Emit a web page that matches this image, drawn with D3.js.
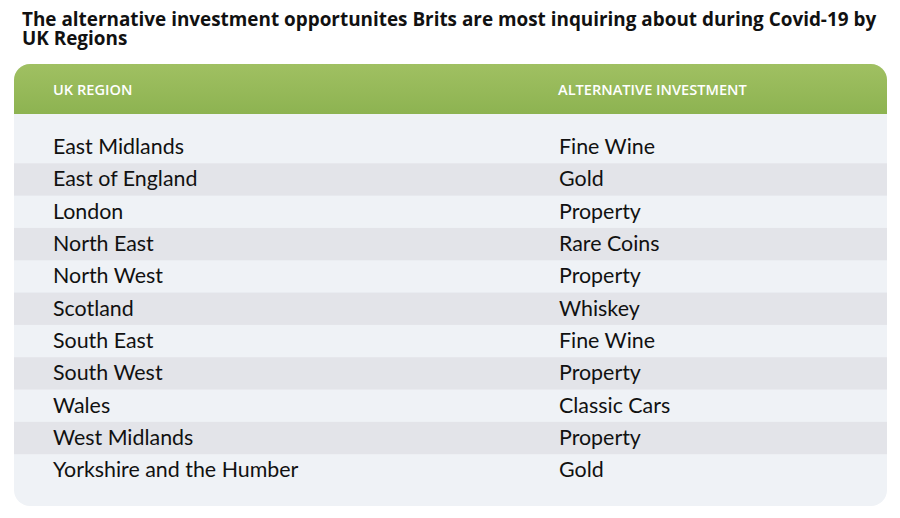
<!DOCTYPE html><html><head><meta charset="utf-8"><script src="https://cdn.jsdelivr.net/npm/d3@7"></script>
<style>body{margin:0;background:#fff}</style></head><body><svg id="c" width="900" height="518"></svg>
<script>
const regions=["East Midlands","East of England","London","North East","North West","Scotland","South East","South West","Wales","West Midlands","Yorkshire and the Humber"];
const investments=["Fine Wine","Gold","Property","Rare Coins","Property","Whiskey","Fine Wine","Property","Classic Cars","Property","Gold"];
const headers=["UK REGION","ALTERNATIVE INVESTMENT"];
const svg=d3.select("#c");
const defs=svg.append("defs");
const g=defs.append("linearGradient").attr("id","hg").attr("x1",0).attr("y1",0).attr("x2",0).attr("y2",1);
g.append("stop").attr("offset",0).attr("stop-color","#a0c062");
g.append("stop").attr("offset",1).attr("stop-color","#8db351");
defs.append("clipPath").attr("id","card").append("rect").attr("x",14).attr("y",64).attr("width",873).attr("height",442).attr("rx",16);
const tl=["The alternative investment opportunites Brits are most inquiring about during Covid-19 by","UK Regions"];
svg.selectAll("text.t").data(tl).join("text").attr("class","t").attr("x",22).attr("y",(d,i)=>26+i*19)
 .attr("font-family","Open Sans").attr("font-weight",700).attr("font-size",18.9).attr("fill","#111").text(d=>d);
const cg=svg.append("g").attr("clip-path","url(#card)");
cg.append("rect").attr("x",14).attr("y",64).attr("width",873).attr("height",442).attr("fill","#eff2f6");
cg.append("rect").attr("x",14).attr("y",64).attr("width",873).attr("height",50).attr("fill","url(#hg)");
const y=d3.scaleBand().domain(d3.range(regions.length)).range([131,486.5]);
cg.selectAll("rect.st").data(d3.range(regions.length).filter(i=>i%2==1)).join("rect").attr("class","st")
 .attr("x",14).attr("width",873).attr("y",i=>y(i)).attr("height",y.bandwidth()).attr("fill","#e3e4e9");
const hx=[53,558];
svg.selectAll("text.h").data(headers).join("text").attr("class","h").attr("x",(d,i)=>hx[i]).attr("y",95)
 .attr("font-family","Open Sans").attr("font-weight",600).attr("font-size",14.6).attr("fill","#fff").text(d=>d);
svg.selectAll("text.r").data(regions).join("text").attr("class","r").attr("x",53).attr("y",(d,i)=>y(i)+y.bandwidth()/2+7)
 .attr("font-family","Lato").attr("font-size",21.4).attr("fill","#111").text(d=>d);
svg.selectAll("text.v").data(investments).join("text").attr("class","v").attr("x",559).attr("y",(d,i)=>y(i)+y.bandwidth()/2+7)
 .attr("font-family","Lato").attr("font-size",21.4).attr("fill","#111").text(d=>d);
</script></body></html>
